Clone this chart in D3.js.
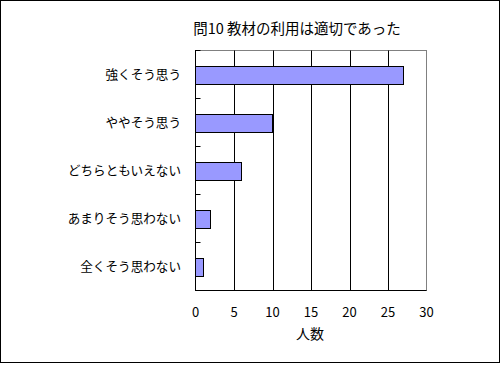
<!DOCTYPE html>
<html>
<head>
<meta charset="utf-8">
<script src="https://cdn.jsdelivr.net/npm/d3@7"></script>
<style>
  body { margin: 0; background: #fff; }
  svg { display: block; }
  text { font-family: "Noto Sans CJK JP", "Noto Sans", sans-serif; fill: #000; }
</style>
</head>
<body>
<div class="svg-container"></div>
<script>
const categories = ["強くそう思う", "ややそう思う", "どちらともいえない", "あまりそう思わない", "全くそう思わない"];
const counts = [27, 10, 6, 2, 1];
const xTicks = [0, 5, 10, 15, 20, 25, 30];
const chartTitle = "問10 教材の利用は適切であった";
const xTitle = "人数";

function draw_chart() {
  const width = 501, height = 365;
  const plot = { left: 195.5, right: 426.5, top: 50.5, bottom: 290.5 };

  let svg = d3.select(".svg-container")
    .append("svg")
    .attr("width", width)
    .attr("height", height);

  // outer frame
  svg.append("rect")
    .attr("x", 0.5).attr("y", 0.5)
    .attr("width", 499).attr("height", 362)
    .attr("fill", "#fff")
    .attr("stroke", "#000");

  let xScale = d3.scaleLinear()
    .domain([0, 30])
    .range([plot.left, plot.right]);

  let yScale = d3.scaleBand()
    .domain(categories)
    .range([plot.top, plot.bottom])
    .paddingInner(0.63)
    .paddingOuter(0.315);

  // plot border (grey)
  svg.append("rect")
    .attr("x", plot.left).attr("y", plot.top)
    .attr("width", plot.right - plot.left)
    .attr("height", plot.bottom - plot.top)
    .attr("fill", "none")
    .attr("stroke", "#808080");

  // grid lines
  svg.append("g")
    .selectAll("line")
    .data(xTicks.filter(d => d > 0 && d < 30))
    .enter().append("line")
    .attr("x1", d => Math.round(xScale(d)) + 0.5)
    .attr("x2", d => Math.round(xScale(d)) + 0.5)
    .attr("y1", plot.top)
    .attr("y2", plot.bottom)
    .attr("stroke", "#000");

  // bars
  svg.append("g")
    .selectAll("rect")
    .data(counts)
    .enter().append("rect")
    .attr("x", plot.left)
    .attr("y", (d, i) => Math.round(yScale(categories[i])) + 0.5)
    .attr("width", d => Math.round(xScale(d) - plot.left))
    .attr("height", Math.round(yScale.bandwidth()))
    .attr("fill", "#9999ff")
    .attr("stroke", "#000");

  // y axis with ticks at band boundaries (inward)
  const step = yScale.step();
  const bounds = d3.range(categories.length + 1).map(i => plot.top + i * step);
  let gY = svg.append("g");
  gY.append("line")
    .attr("x1", plot.left).attr("x2", plot.left)
    .attr("y1", plot.top - 0.5).attr("y2", plot.bottom + 0.5)
    .attr("stroke", "#000");
  gY.selectAll(".tick")
    .data(bounds)
    .enter().append("line")
    .attr("x1", plot.left).attr("x2", plot.left + 5)
    .attr("y1", d => Math.round(d - 0.5) + 0.5)
    .attr("y2", d => Math.round(d - 0.5) + 0.5)
    .attr("stroke", "#000");
  gY.selectAll(".lbl")
    .data(categories)
    .enter().append("text")
    .attr("x", 181)
    .attr("y", d => yScale(d) + yScale.bandwidth() / 2)
    .attr("dy", "0.35em")
    .attr("text-anchor", "end")
    .style("font-size", "12.6px")
    .text(d => d);

  // x axis
  let gX = svg.append("g");
  gX.append("line")
    .attr("x1", plot.left).attr("x2", plot.right)
    .attr("y1", plot.bottom).attr("y2", plot.bottom)
    .attr("stroke", "#000");
  gX.selectAll("text")
    .data(xTicks)
    .enter().append("text")
    .attr("x", d => xScale(d))
    .attr("y", 312)
    .attr("dy", "0.35em")
    .attr("text-anchor", "middle")
    .style("font-size", "13px")
    .text(d => d);

  svg.append("text")
    .attr("x", 310)
    .attr("y", 334)
    .attr("dy", "0.35em")
    .attr("text-anchor", "middle")
    .style("font-size", "14px")
    .text(xTitle);

  svg.append("text")
    .attr("x", 297)
    .attr("y", 29)
    .attr("dy", "0.35em")
    .attr("text-anchor", "middle")
    .style("font-size", "14.5px")
    .text(chartTitle);
}

draw_chart();
</script>
</body>
</html>
